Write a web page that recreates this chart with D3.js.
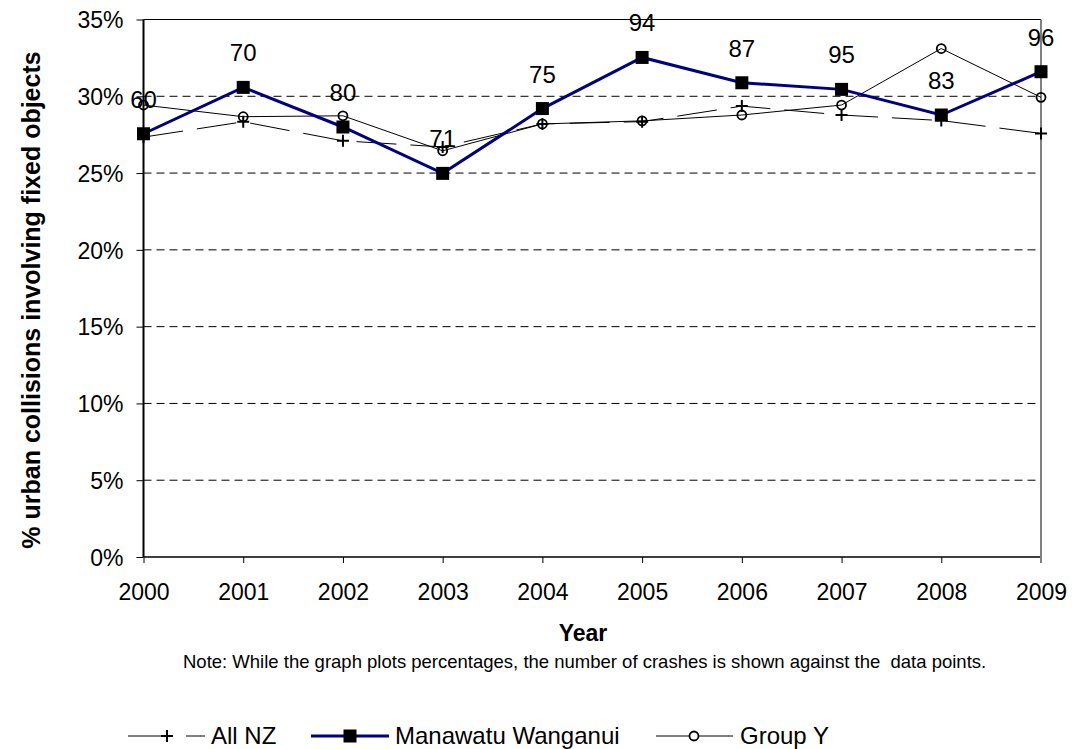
<!DOCTYPE html>
<html>
<head>
<meta charset="utf-8">
<script src="https://cdn.jsdelivr.net/npm/d3@7"></script>
<style>
  html, body { margin: 0; padding: 0; background: #fff; }
  svg { display: block; font-family: "Liberation Sans", Arial, sans-serif; }
</style>
</head>
<body>
<svg id="chart" width="1072" height="749"></svg>
<script>
// ---- Data ----
const years = [2000, 2001, 2002, 2003, 2004, 2005, 2006, 2007, 2008, 2009];
const allNZ = [0.2734, 0.2834, 0.2710, 0.2670, 0.2820, 0.2835, 0.2936, 0.2878, 0.2842, 0.2758];
const manawatu = [0.2756, 0.3058, 0.2800, 0.2498, 0.2920, 0.3253, 0.3088, 0.3045, 0.2878, 0.3160];
const groupY = [0.2943, 0.2867, 0.2873, 0.2645, 0.2820, 0.2840, 0.2878, 0.2943, 0.3311, 0.2993];
const crashCounts = [60, 70, 80, 71, 75, 94, 87, 95, 83, 96];
const yTicks = [0, 0.05, 0.10, 0.15, 0.20, 0.25, 0.30, 0.35];
const seriesNames = ["All NZ", "Manawatu Wanganui", "Group Y"];
const xTitle = "Year";
const yTitle = "% urban collisions involving fixed objects";
const noteText = "Note: While the graph plots percentages, the number of crashes is shown against the  data points.";

// ---- Layout ----
const svg = d3.select("#chart");
const pLeft = 143.5, pRight = 1041, pTop = 19.5, pBottom = 557;
const x = d3.scaleLinear().domain([2000, 2009]).range([pLeft, pRight]);
const y = d3.scaleLinear().domain([0, 0.35]).range([pBottom, pTop]);

// gridlines (dashed) for 5%..30%
svg.append("g").selectAll("line")
  .data(yTicks.filter(t => t > 0 && t < 0.35))
  .join("line")
  .attr("x1", pLeft).attr("x2", pRight)
  .attr("y1", d => y(d)).attr("y2", d => y(d))
  .attr("stroke", "#000").attr("stroke-width", 1)
  .attr("stroke-dasharray", "8,5");

// top border (solid) at 35%
svg.append("line")
  .attr("x1", pLeft).attr("x2", pRight)
  .attr("y1", y(0.35)).attr("y2", y(0.35))
  .attr("stroke", "#000").attr("stroke-width", 1);

// y axis
const yAxis = svg.append("g")
  .attr("transform", `translate(${pLeft},0)`)
  .call(d3.axisLeft(y).tickValues(yTicks).tickFormat(d3.format(".0%")).tickSize(7).tickPadding(13));
yAxis.select(".domain").attr("stroke", "#000").attr("stroke-width", 2).attr("d", `M0,${pTop}V${pBottom}`);
yAxis.selectAll(".tick line").attr("stroke", "#000").attr("stroke-width", 1);
yAxis.selectAll(".tick text").attr("font-size", 23).attr("fill", "#000")
  .attr("font-family", "Liberation Sans, Arial, sans-serif").attr("dy", "0.36em");

// x axis
const xAxis = svg.append("g")
  .attr("transform", `translate(0,${pBottom})`)
  .call(d3.axisBottom(x).tickValues(years).tickFormat(d3.format("d")).tickSize(6).tickPadding(0));
xAxis.select(".domain").attr("stroke", "#000").attr("stroke-width", 1.5).attr("d", `M${pLeft},0H${pRight}`);
xAxis.selectAll(".tick line").attr("stroke", "#000").attr("stroke-width", 1);
xAxis.selectAll(".tick text").attr("font-size", 23).attr("fill", "#000")
  .attr("font-family", "Liberation Sans, Arial, sans-serif").attr("dy", null).attr("y", 42.5);

// right border (gray)
svg.append("line")
  .attr("x1", pRight).attr("x2", pRight)
  .attr("y1", pTop).attr("y2", pBottom + 6)
  .attr("stroke", "#808080").attr("stroke-width", 2);

// ---- Series ----
const line = d3.line().x((d, i) => x(years[i])).y(d => y(d));

function plusPath(cx, cy, s) {
  return `M${cx - s},${cy}H${cx + s}M${cx},${cy - s}V${cy + s}`;
}

// Group Y
svg.append("path").datum(groupY).attr("d", line)
  .attr("fill", "none").attr("stroke", "#000").attr("stroke-width", 1);
svg.append("g").selectAll("circle").data(groupY).join("circle")
  .attr("cx", (d, i) => x(years[i])).attr("cy", d => y(d)).attr("r", 4.5)
  .attr("fill", "none").attr("stroke", "#000").attr("stroke-width", 1.8);

// All NZ
svg.append("path").datum(allNZ).attr("d", line)
  .attr("fill", "none").attr("stroke", "#000").attr("stroke-width", 1)
  .attr("stroke-dasharray", "40,14");
svg.append("g").selectAll("path").data(allNZ).join("path")
  .attr("d", (d, i) => plusPath(x(years[i]), y(d), 6))
  .attr("stroke", "#000").attr("stroke-width", 2).attr("fill", "none");

// Manawatu Wanganui
svg.append("path").datum(manawatu).attr("d", line)
  .attr("fill", "none").attr("stroke", "#000080").attr("stroke-width", 3);
svg.append("g").selectAll("rect").data(manawatu).join("rect")
  .attr("x", (d, i) => x(years[i]) - 6.5).attr("y", d => y(d) - 6.5)
  .attr("width", 13).attr("height", 13).attr("fill", "#000");

// data labels (crash counts)
svg.append("g").selectAll("text").data(crashCounts).join("text")
  .attr("x", (d, i) => x(years[i])).attr("y", (d, i) => y(manawatu[i]) - 26)
  .attr("text-anchor", "middle").attr("font-size", 24).attr("fill", "#000")
  .text(d => d);

// ---- Titles ----
svg.append("text").attr("x", 583).attr("y", 640.5).attr("text-anchor", "middle")
  .attr("font-size", 23).attr("font-weight", "bold").text(xTitle);
svg.append("text").attr("transform", "translate(40,300) rotate(-90)").attr("text-anchor", "middle")
  .attr("font-size", 25).attr("font-weight", "bold").text(yTitle);
svg.append("text").attr("x", 183).attr("y", 668).attr("text-anchor", "start")
  .attr("font-size", 18.5).style("white-space", "pre").text(noteText);

// ---- Legend ----
const ly = 736;
const legend = svg.append("g");
// All NZ
legend.append("line").attr("x1", 128).attr("x2", 205).attr("y1", ly).attr("y2", ly)
  .attr("stroke", "#000").attr("stroke-width", 1).attr("stroke-dasharray", "36,22");
legend.append("path").attr("d", plusPath(167, ly, 6)).attr("stroke", "#000").attr("stroke-width", 2);
legend.append("text").attr("x", 211).attr("y", ly + 8).attr("font-size", 24).text(seriesNames[0]);
// Manawatu
legend.append("line").attr("x1", 311).attr("x2", 389).attr("y1", ly).attr("y2", ly)
  .attr("stroke", "#000080").attr("stroke-width", 3);
legend.append("rect").attr("x", 350 - 6.5).attr("y", ly - 6.5).attr("width", 13).attr("height", 13).attr("fill", "#000");
legend.append("text").attr("x", 395).attr("y", ly + 8).attr("font-size", 24).text(seriesNames[1]);
// Group Y
legend.append("line").attr("x1", 656).attr("x2", 733).attr("y1", ly).attr("y2", ly)
  .attr("stroke", "#000").attr("stroke-width", 1);
legend.append("circle").attr("cx", 694).attr("cy", ly).attr("r", 4.5)
  .attr("fill", "#fff").attr("stroke", "#000").attr("stroke-width", 1.8);
legend.append("text").attr("x", 740).attr("y", ly + 8).attr("font-size", 24).text(seriesNames[2]);
</script>
</body>
</html>
